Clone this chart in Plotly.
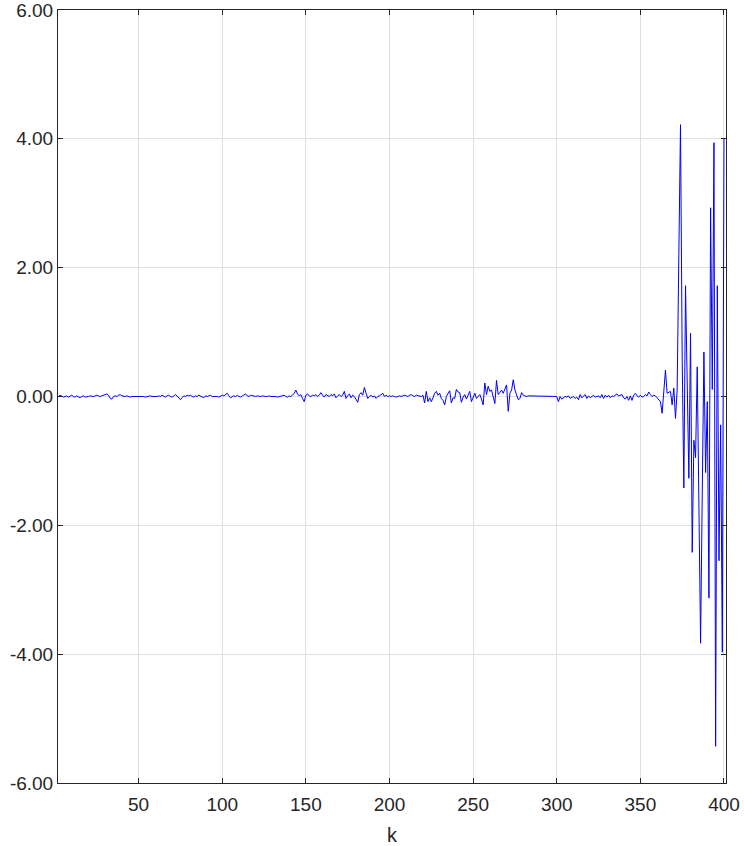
import plotly.graph_objects as go

vals_001_020 = [0.01, 0.00, 0.02, 0.01, -0.01, 0.00, 0.01, -0.01, 0.00, 0.02, 0.00, -0.01, 0.01, 0.00, -0.02, 0.00, 0.01, -0.01, -0.01, 0.00]
vals_021_040 = [0.01, 0.00, 0.00, 0.01, 0.02, 0.01, 0.00, 0.01, 0.02, 0.03, 0.04, 0.02, -0.03, -0.04, 0.00, 0.01, 0.00, 0.02, 0.03, 0.01]
vals_041_060 = [0.00, 0.00, 0.01, 0.00, -0.01, 0.00, 0.00, 0.01, 0.00, 0.00, 0.00, 0.01, 0.00, -0.01, 0.00, 0.00, 0.01, 0.00, 0.00, -0.01]
vals_061_080 = [0.00, 0.01, 0.00, 0.02, 0.00, -0.01, 0.01, 0.02, 0.00, -0.01, 0.01, 0.03, 0.01, -0.02, -0.05, -0.02, 0.01, 0.00, 0.02, 0.01]
vals_081_100 = [0.02, 0.00, -0.01, 0.01, 0.00, 0.02, 0.01, 0.00, -0.02, 0.01, 0.00, 0.01, 0.02, 0.00, 0.00, 0.01, 0.00, -0.01, 0.00, 0.02]
vals_101_120 = [0.01, 0.03, 0.05, 0.01, -0.02, 0.00, 0.01, 0.00, 0.02, 0.00, -0.01, 0.01, 0.02, 0.04, 0.01, 0.00, 0.02, 0.01, 0.00, 0.00]
vals_121_140 = [0.01, 0.00, 0.00, 0.01, 0.00, 0.00, 0.00, 0.01, 0.00, 0.00, 0.01, 0.00, -0.01, 0.00, 0.00, 0.01, 0.02, 0.00, -0.01, 0.01]
vals_141_160 = [0.00, 0.02, 0.05, 0.10, 0.04, 0.01, 0.03, -0.03, -0.08, 0.02, 0.04, 0.01, 0.00, 0.02, 0.01, 0.03, 0.00, 0.02, 0.06, 0.02]
vals_161_180 = [-0.01, 0.03, 0.02, 0.00, 0.03, 0.01, 0.04, -0.02, 0.01, 0.03, 0.00, 0.02, 0.08, -0.03, 0.01, 0.04, -0.02, 0.02, 0.00, -0.04]
vals_181_200 = [-0.09, 0.03, 0.06, 0.02, 0.14, 0.05, -0.03, 0.00, 0.02, -0.01, 0.01, -0.03, 0.00, 0.01, 0.03, 0.05, 0.00, 0.02, 0.00, 0.01]
vals_201_220 = [0.00, 0.01, 0.00, -0.01, 0.00, 0.01, 0.00, 0.01, 0.02, 0.01, 0.00, 0.02, 0.03, 0.01, 0.00, 0.02, 0.01, 0.00, 0.00, 0.02]
vals_221_240 = [-0.10, 0.08, -0.08, -0.02, -0.08, -0.02, 0.05, 0.08, 0.02, 0.05, -0.03, -0.06, -0.13, 0.00, 0.05, 0.09, -0.10, -0.02, -0.03, 0.11]
vals_241_260 = [0.07, 0.06, -0.09, -0.01, 0.03, -0.04, 0.02, 0.08, -0.08, -0.02, 0.05, -0.03, 0.01, 0.03, -0.04, -0.13, 0.21, 0.03, 0.16, 0.08]
vals_261_280 = [0.10, 0.00, -0.11, 0.25, 0.03, 0.06, 0.10, 0.05, 0.12, 0.18, -0.23, 0.05, 0.10, 0.26, 0.10, 0.03, -0.05, -0.03, 0.06, 0.02]
vals_281_300 = [0.01, 0.00, 0.01, 0.01, 0.00, 0.01, 0.00, 0.01, 0.00, 0.00, 0.01, 0.00, 0.00, 0.01, 0.00, 0.00, 0.00, 0.01, 0.00, 0.00]
vals_301_320 = [-0.08, 0.00, -0.04, -0.02, 0.00, -0.01, 0.01, -0.03, -0.02, 0.00, -0.03, -0.01, -0.05, 0.03, -0.02, 0.00, 0.03, -0.03, 0.01, -0.02]
vals_321_340 = [0.00, 0.02, -0.01, 0.00, 0.01, -0.02, 0.03, -0.03, 0.02, -0.01, 0.02, -0.02, 0.01, 0.00, 0.02, 0.04, 0.01, 0.02, 0.03, -0.02]
vals_341_360 = [-0.04, 0.00, -0.06, 0.01, -0.06, 0.02, 0.05, 0.01, -0.01, 0.02, -0.01, 0.00, 0.03, 0.01, 0.07, 0.03, 0.00, 0.02, 0.01, -0.02]
vals_361_380 = [-0.05, -0.08, -0.26, 0.05, 0.41, 0.05, 0.06, 0.08, -0.13, 0.13, -0.34, 0.10, 2.20, 4.22, 0.60, -1.42, 1.72, 0.20, -1.27, 0.98]
vals_381_400 = [-2.42, -0.68, -0.95, 0.46, -1.60, -3.83, -1.50, 0.69, -1.18, -0.08, -3.13, 2.93, 0.11, 3.94, -5.43, 1.72, -2.55, -0.44, -3.97, 4.00]

values = (vals_001_020 + vals_021_040 + vals_041_060 + vals_061_080 + vals_081_100
          + vals_101_120 + vals_121_140 + vals_141_160 + vals_161_180 + vals_181_200
          + vals_201_220 + vals_221_240 + vals_241_260 + vals_261_280 + vals_281_300
          + vals_301_320 + vals_321_340 + vals_341_360 + vals_361_380 + vals_381_400)
k = list(range(1, len(values) + 1))

x_ticks = [50, 100, 150, 200, 250, 300, 350, 400]
y_ticks = [-6, -4, -2, 0, 2, 4, 6]
y_tick_labels = ["-6.00", "-4.00", "-2.00", "0.00", "2.00", "4.00", "6.00"]

fig = go.Figure()
fig.add_trace(go.Scatter(x=k, y=values, mode="lines",
                         line=dict(color="#0000ff", width=1), showlegend=False))

font_color = "#262626"
axis_common = dict(
    showline=True, linecolor="#262626", linewidth=1, mirror="ticks",
    ticks="inside", ticklen=5, tickcolor="#262626", tickwidth=1,
    showgrid=True, gridcolor="#dfdfdf", gridwidth=1, zeroline=False,
    automargin=False, ticklabeloverflow="allow",
    tickfont=dict(family="Arial, Liberation Sans", size=19, color=font_color),
)

fig.update_layout(
    width=744, height=846,
    margin=dict(l=58, r=18, t=10, b=63),
    paper_bgcolor="white", plot_bgcolor="white",
    xaxis=dict(range=[1.8, 401.2], tickvals=x_ticks, ticklabelstandoff=4,
               title=dict(text="k", font=dict(family="Arial, Liberation Sans", size=20, color=font_color), standoff=14),
               **axis_common),
    yaxis=dict(range=[-6, 6], tickvals=y_ticks, ticktext=y_tick_labels, **axis_common),
)

fig.write_html("out.html", config={"displayModeBar": False},
               post_script="document.body.style.margin='0px';document.body.style.overflow='hidden';")
